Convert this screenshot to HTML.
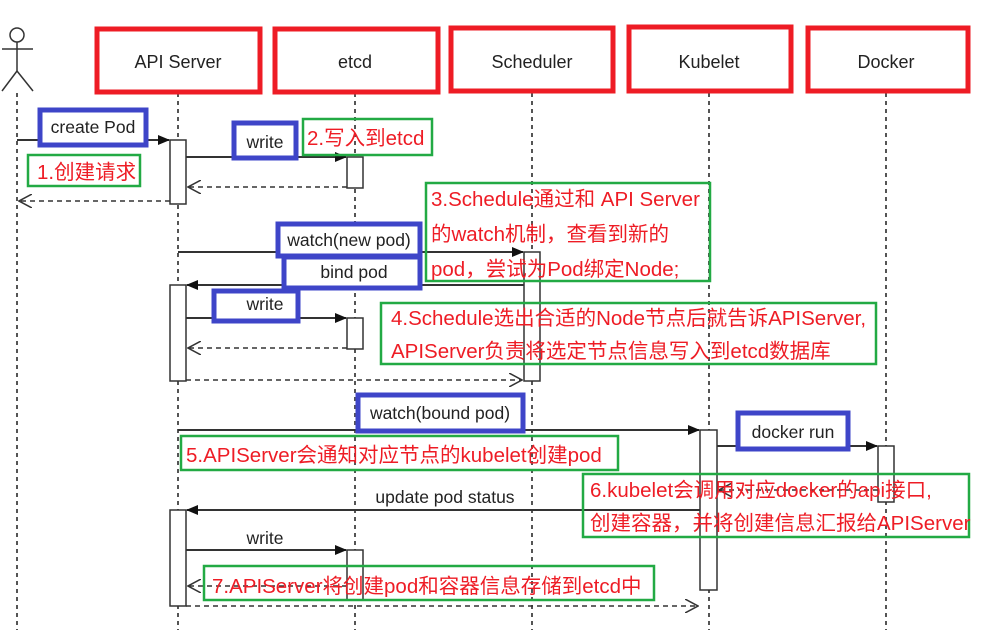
<!DOCTYPE html>
<html><head><meta charset="utf-8"><style>
html,body{margin:0;padding:0;background:#fff;}
svg{display:block;}
.lbl{font-family:"Liberation Sans",sans-serif;font-size:17.5px;fill:#222;}
.red{font-family:"Liberation Sans","Noto Sans CJK SC",sans-serif;font-size:20.5px;fill:#ee1c25;}
</style></head><body>
<svg width="988" height="635" viewBox="0 0 988 635" xmlns="http://www.w3.org/2000/svg">
<defs>
<marker id="fa" markerWidth="12" markerHeight="10" refX="11" refY="5" orient="auto" markerUnits="userSpaceOnUse"><path d="M0,0 L12,5 L0,10 z" fill="#111"/></marker>
<marker id="oa" markerWidth="14" markerHeight="14" refX="13" refY="7" orient="auto" markerUnits="userSpaceOnUse"><path d="M0,0 L13,7 L0,14" fill="none" stroke="#333" stroke-width="1.5"/></marker>
</defs>
<g stroke="#555" stroke-width="2" stroke-dasharray="4,4">
<line x1="17" y1="93" x2="17" y2="630"/>
<line x1="178" y1="93" x2="178" y2="630"/>
<line x1="355" y1="93" x2="355" y2="630"/>
<line x1="532" y1="93" x2="532" y2="630"/>
<line x1="709" y1="93" x2="709" y2="630"/>
<line x1="886" y1="93" x2="886" y2="630"/>
</g>
<g stroke="#333" stroke-width="1.5" fill="none">
<circle cx="17" cy="35" r="7"/>
<line x1="17" y1="42" x2="17" y2="71"/>
<line x1="2" y1="49" x2="33" y2="49"/>
<line x1="17" y1="71" x2="2" y2="91"/>
<line x1="17" y1="71" x2="33" y2="91"/>
</g>
<g fill="#fff" stroke="#ee1c25" stroke-width="5">
<rect x="97" y="29" width="163" height="63"/>
<rect x="275" y="29" width="163" height="63"/>
<rect x="451" y="28" width="162" height="63"/>
<rect x="629" y="27" width="162" height="64"/>
<rect x="808" y="28" width="160" height="63"/>
</g>
<g class="lbl" text-anchor="middle" style="font-size:18px">
<text x="178" y="68">API Server</text>
<text x="355" y="68">etcd</text>
<text x="532" y="68">Scheduler</text>
<text x="709" y="68">Kubelet</text>
<text x="886" y="68">Docker</text>
</g>
<g fill="#fff" stroke="#333" stroke-width="1.5">
<rect x="170" y="140" width="16" height="64"/>
<rect x="347" y="157" width="16" height="31"/>
<rect x="170" y="285" width="16" height="96"/>
<rect x="347" y="318" width="16" height="31"/>
<rect x="524" y="252" width="16" height="129"/>
<rect x="700" y="430" width="17" height="160"/>
<rect x="878" y="446" width="16" height="56"/>
<rect x="170" y="510" width="16" height="96"/>
<rect x="347" y="550" width="16" height="50"/>
</g>
<g stroke="#333" stroke-width="2" marker-end="url(#fa)">
<line x1="17" y1="140" x2="169" y2="140"/>
<line x1="186" y1="157" x2="346" y2="157"/>
<line x1="178" y1="252" x2="523" y2="252"/>
<line x1="524" y1="285" x2="187" y2="285"/>
<line x1="186" y1="318" x2="346" y2="318"/>
<line x1="178" y1="430" x2="699" y2="430"/>
<line x1="717" y1="446" x2="877" y2="446"/>
<line x1="700" y1="510" x2="187" y2="510"/>
<line x1="186" y1="550" x2="346" y2="550"/>
</g>
<g stroke="#333" stroke-width="1.5" stroke-dasharray="5,4" marker-end="url(#oa)">
<line x1="347" y1="187" x2="188" y2="187"/>
<line x1="170" y1="201" x2="19" y2="201"/>
<line x1="347" y1="348" x2="188" y2="348"/>
<line x1="186" y1="380" x2="522" y2="380"/>
<line x1="878" y1="490" x2="719" y2="490"/>
<line x1="347" y1="586" x2="188" y2="586"/>
<line x1="186" y1="606" x2="698" y2="606"/>
</g>
<g fill="#fff" stroke="#3e45c8" stroke-width="5">
<rect x="40" y="110" width="106" height="35"/>
<rect x="234" y="123" width="62" height="35"/>
<rect x="278" y="224" width="142" height="32"/>
<rect x="284" y="257" width="136" height="31"/>
<rect x="214" y="291" width="84" height="30"/>
<rect x="358" y="395" width="165" height="36"/>
<rect x="738" y="413" width="110" height="36"/>
</g>
<g class="lbl" text-anchor="middle">
<text x="93" y="133">create Pod</text>
<text x="265" y="148">write</text>
<text x="349" y="246">watch(new pod)</text>
<text x="354" y="278">bind pod</text>
<text x="265" y="310">write</text>
<text x="440" y="419">watch(bound pod)</text>
<text x="793" y="438">docker run</text>
<text x="445" y="503">update pod status</text>
<text x="265" y="544">write</text>
</g>
<g fill="none" stroke="#22aa44" stroke-width="2.5">
<rect x="28" y="155" width="112" height="31"/>
<rect x="303" y="119" width="129" height="36"/>
<rect x="426" y="183" width="284" height="98"/>
<rect x="381" y="303" width="495" height="61"/>
<rect x="181" y="436" width="437" height="34"/>
<rect x="583" y="474" width="386" height="63"/>
<rect x="204" y="566" width="450" height="34"/>
</g>
<g class="red">
<text x="37" y="179">1.创建请求</text>
<text x="307" y="145">2.写入到etcd</text>
<text x="431" y="206">3.Schedule通过和 API Server</text>
<text x="431" y="241">的watch机制，查看到新的</text>
<text x="431" y="276">pod，尝试为Pod绑定Node;</text>
<text x="391" y="325">4.Schedule选出合适的Node节点后就告诉APIServer,</text>
<text x="391" y="358">APIServer负责将选定节点信息写入到etcd数据库</text>
<text x="186" y="462">5.APIServer会通知对应节点的kubelet创建pod</text>
<text x="590" y="497">6.kubelet会调用对应docker的api接口,</text>
<text x="590" y="530">创建容器，并将创建信息汇报给APIServer</text>
<text x="212" y="593">7.APIServer将创建pod和容器信息存储到etcd中</text>
</g>
</svg>
</body></html>
